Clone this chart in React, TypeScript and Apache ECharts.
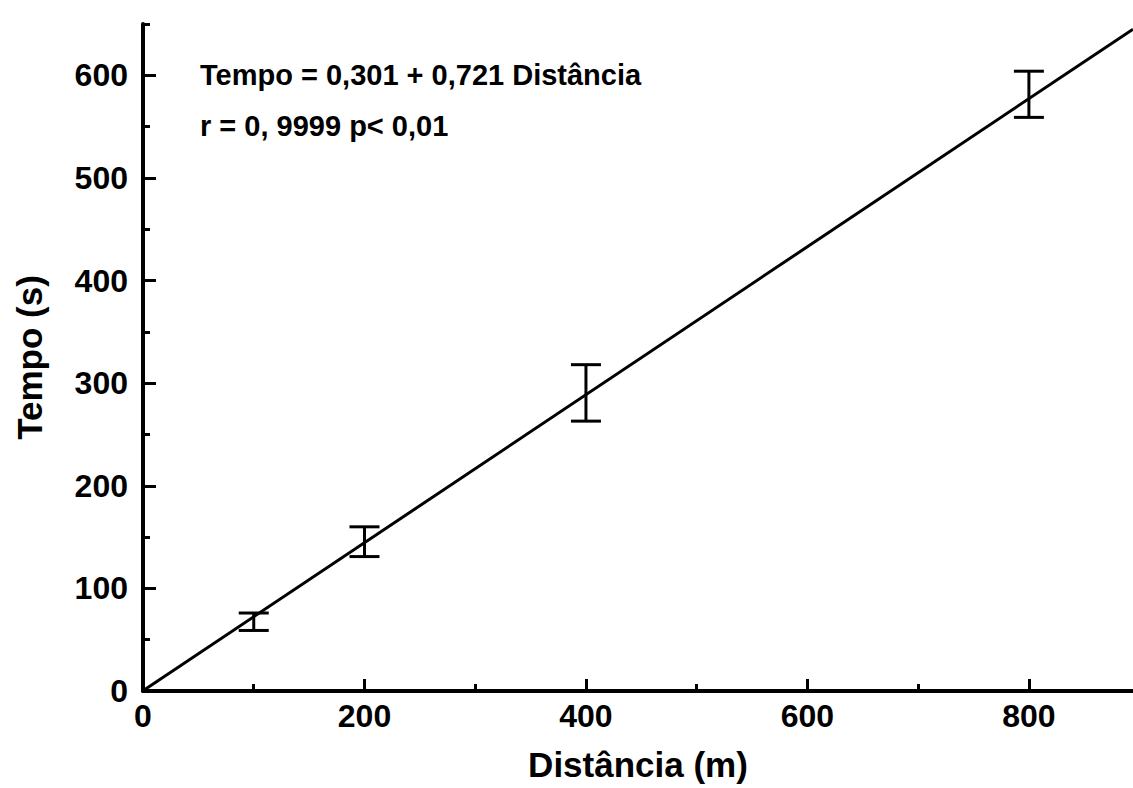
import React, { useEffect, useRef } from "react";
import * as echarts from "echarts";

const distances = [100, 200, 400, 800];
const lowerBounds = [59, 131, 263, 559];
const upperBounds = [76, 160, 318, 604];
const fitLineX = [0, 894];
const fitLineY = [0.3, 645];
const xMajorTicks = [0, 200, 400, 600, 800];
const xMinorTicks = [100, 300, 500, 700];
const yMajorTicks = [0, 100, 200, 300, 400, 500, 600];
const yMinorTicks = [50, 150, 250, 350, 450, 550, 650];
const annotationLines = ["Tempo = 0,301 + 0,721 Distância", "r = 0, 9999 p< 0,01"];

const FONT = "'Liberation Sans', Arial, Helvetica, sans-serif";

export default function App() {
  const ref = useRef<HTMLDivElement>(null);
  useEffect(() => {
    if (!ref.current) return;
    const chart = echarts.init(ref.current, null, { renderer: "svg" });
    const errData = distances.map((d, i) => [d, lowerBounds[i], upperBounds[i]]);
    const lineData = fitLineX.map((x, i) => [x, fitLineY[i]]);
    const tickLabelStyle = {
      color: "#000",
      fontFamily: FONT,
      fontWeight: "bold" as const,
      fontSize: 32,
    };
    chart.setOption({
      animation: false,
      backgroundColor: "#fff",
      grid: { left: 143, right: 0, top: 24, bottom: 97, containLabel: false },
      xAxis: [
        {
          type: "value",
          min: 0,
          max: 894,
          name: "Distância (m)",
          nameLocation: "middle",
          nameGap: 56,
          nameTextStyle: { color: "#000", fontFamily: FONT, fontWeight: "bold", fontSize: 35 },
          splitLine: { show: false },
          axisLine: { show: true, onZero: false, lineStyle: { color: "#000", width: 4 } },
          axisTick: { show: true, inside: true, length: 12, customValues: xMajorTicks, lineStyle: { color: "#000", width: 3 } },
          axisLabel: { show: true, customValues: xMajorTicks, margin: 9, ...tickLabelStyle },
        },
        {
          type: "value",
          min: 0,
          max: 894,
          position: "bottom",
          splitLine: { show: false },
          axisLine: { show: false },
          axisTick: { show: true, inside: true, length: 7, customValues: xMinorTicks, lineStyle: { color: "#000", width: 3 } },
          axisLabel: { show: false },
        },
      ],
      yAxis: [
        {
          type: "value",
          min: 0,
          max: 650,
          name: "Tempo (s)",
          nameLocation: "middle",
          nameGap: 96,
          nameRotate: 90,
          nameTextStyle: { color: "#000", fontFamily: FONT, fontWeight: "bold", fontSize: 35 },
          splitLine: { show: false },
          axisLine: { show: true, onZero: false, lineStyle: { color: "#000", width: 4 } },
          axisTick: { show: true, inside: true, length: 13, customValues: yMajorTicks, lineStyle: { color: "#000", width: 3 } },
          axisLabel: { show: true, customValues: yMajorTicks, margin: 15, ...tickLabelStyle },
        },
        {
          type: "value",
          min: 0,
          max: 650,
          position: "left",
          splitLine: { show: false },
          axisLine: { show: false },
          axisTick: { show: true, inside: true, length: 7, customValues: yMinorTicks, lineStyle: { color: "#000", width: 3 } },
          axisLabel: { show: false },
        },
      ],
      graphic: [
        {
          type: "text",
          left: 200,
          top: 60,
          style: { text: annotationLines[0], fill: "#000", font: `bold 29px ${FONT}` },
        },
        {
          type: "text",
          left: 200,
          top: 111,
          style: { text: annotationLines[1], fill: "#000", font: `bold 29px ${FONT}` },
        },
      ],
      series: [
        {
          type: "line",
          data: lineData,
          showSymbol: false,
          symbol: "none",
          clip: false,
          lineStyle: { color: "#000", width: 3 },
        },
        {
          type: "custom",
          data: errData,
          clip: false,
          renderItem: (params: any, api: any) => {
            const x = api.value(0);
            const lo = api.coord([x, api.value(1)]);
            const hi = api.coord([x, api.value(2)]);
            const hw = 15;
            const style = { stroke: "#000", lineWidth: 3, fill: "none" };
            return {
              type: "group",
              children: [
                { type: "line", shape: { x1: lo[0], y1: lo[1], x2: hi[0], y2: hi[1] }, style },
                { type: "line", shape: { x1: lo[0] - hw, y1: lo[1], x2: lo[0] + hw, y2: lo[1] }, style },
                { type: "line", shape: { x1: hi[0] - hw, y1: hi[1], x2: hi[0] + hw, y2: hi[1] }, style },
              ],
            };
          },
        },
      ],
    });
    return () => chart.dispose();
  }, []);
  return (
    <div
      ref={ref}
      style={{ position: "fixed", left: 0, top: 0, width: 1133, height: 788, background: "#fff" }}
    />
  );
}
